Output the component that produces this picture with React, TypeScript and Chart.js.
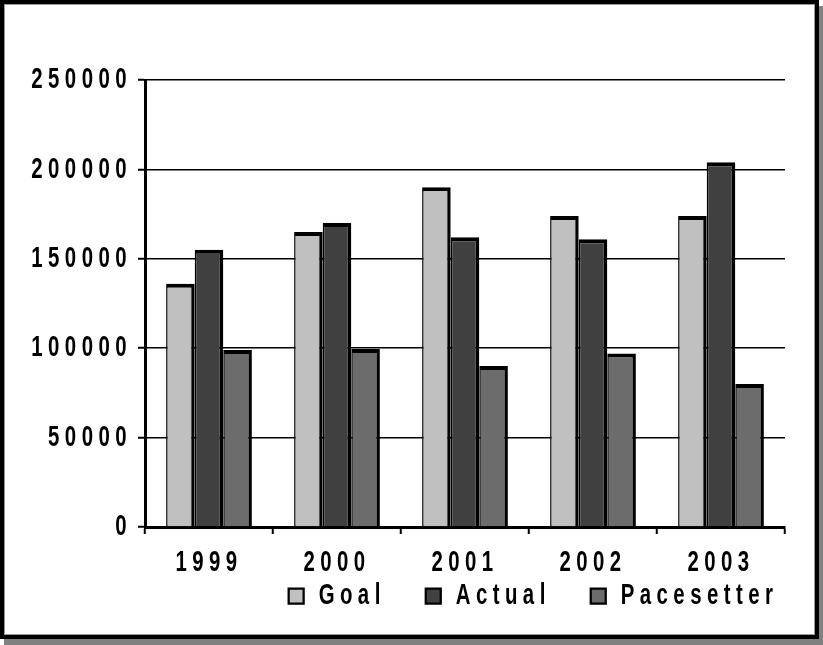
import React, { useEffect, useRef } from "react";
import { Chart, registerables } from "chart.js";

Chart.register(...registerables);

const categories = ["1999", "2000", "2001", "2002", "2003"];
const goal = [136000, 165000, 190000, 174000, 174000];
const actual = [155000, 170000, 162000, 161000, 204000];
const pacesetter = [99000, 99500, 90000, 97000, 80000];
const yTicks = [0, 50000, 100000, 150000, 200000, 250000];

const FONT = "'Liberation Sans', Arial, sans-serif";
const SX = 0.68; // horizontal condensing of text
const SPACING = "8px";
const LEGEND_SHIFT = 141;

function condenseText(ctx: any) {
  if (ctx.__condensed) return;
  ctx.__condensed = true;
  const origFill = ctx.fillText;
  const origMeasure = ctx.measureText;
  ctx.fillText = function (text: string, x: number, y: number, maxWidth?: number) {
    this.save();
    this.translate(x, y);
    this.scale(SX, 1);
    if (maxWidth !== undefined) origFill.call(this, text, 0, 0, maxWidth / SX);
    else origFill.call(this, text, 0, 0);
    this.restore();
  };
  ctx.measureText = function (text: string) {
    const m = origMeasure.call(this, text);
    return {
      width: m.width * SX,
      actualBoundingBoxAscent: m.actualBoundingBoxAscent,
      actualBoundingBoxDescent: m.actualBoundingBoxDescent,
      actualBoundingBoxLeft: m.actualBoundingBoxLeft * SX,
      actualBoundingBoxRight: m.actualBoundingBoxRight * SX,
      fontBoundingBoxAscent: m.fontBoundingBoxAscent,
      fontBoundingBoxDescent: m.fontBoundingBoxDescent,
    };
  };
}

const stylePlugin = {
  id: "textStyle",
  beforeUpdate(chart: any) {
    chart.ctx.letterSpacing = SPACING;
  },
  afterLayout(chart: any) {
    const lg = chart.legend;
    if (lg) {
      lg.left += LEGEND_SHIFT;
      lg.right += LEGEND_SHIFT;
    }
    const x = chart.scales.x;
    if (x) {
      // let the category labels extend below the compact axis box
      x.bottom = x.top + 70;
      x.height = 70;
    }
  },
  beforeDraw(chart: any) {
    chart.ctx.letterSpacing = SPACING;
  },
};

export default function App() {
  const ref = useRef<HTMLCanvasElement | null>(null);

  useEffect(() => {
    if (!ref.current) return;
    const c2d = ref.current.getContext("2d");
    condenseText(c2d);
    const barBorder = { left: 1.5, top: 4, right: 3.5, bottom: 0 };
    const font = { family: FONT, size: 30, weight: "bold" as const };
    const chart = new Chart(ref.current, {
      type: "bar",
      data: {
        labels: categories,
        datasets: [
          { label: "Goal", data: goal, backgroundColor: "#c0c0c0", borderColor: "#000", borderWidth: barBorder as any },
          { label: "Actual", data: actual, backgroundColor: "#404040", borderColor: "#000", borderWidth: barBorder as any },
          { label: "Pacesetter", data: pacesetter, backgroundColor: "#6c6c6c", borderColor: "#000", borderWidth: barBorder as any },
        ],
      },
      options: {
        responsive: false,
        animation: false,
        events: [],
        layout: { padding: { top: 80, right: 38, left: 0, bottom: 24 } },
        datasets: { bar: { categoryPercentage: 0.67, barPercentage: 1.0 } },
        plugins: {
          tooltip: { enabled: false },
          legend: {
            position: "bottom",
            labels: {
              color: "#000",
              font,
              boxWidth: 15,
              boxHeight: 15,
              padding: 40,
            },
          },
        },
        scales: {
          x: {
            afterFit: (scale: any) => {
              scale.height = 14;
            },
            grid: {
              offset: true,
              drawOnChartArea: true,
              color: (c: any) => (c.index === categories.length ? "#000" : "rgba(0,0,0,0)"),
              lineWidth: 1.5,
              drawTicks: true,
              tickLength: 7,
              tickColor: "#000",
              tickWidth: 2,
            },
            border: { display: true, color: "#000", width: 3 },
            ticks: {
              color: "#000",
              font,
              padding: 11,
            },
          },
          y: {
            min: 0,
            max: 250000,
            afterBuildTicks: (scale: any) => {
              scale.ticks = yTicks.map((v) => ({ value: v }));
            },
            afterFit: (scale: any) => {
              scale.width = 145;
            },
            grid: {
              color: "#000",
              lineWidth: 1.5,
              drawTicks: true,
              tickLength: 7,
              tickColor: "#000",
              tickWidth: 2,
            },
            border: { display: true, color: "#000", width: 3 },
            ticks: {
              color: "#000",
              font,
              padding: 6,
              callback: (v: any) => String(v),
            },
          },
        },
      },
      plugins: [stylePlugin],
    });
    return () => chart.destroy();
  }, []);

  return (
    <div style={{ position: "fixed", left: 0, top: 0, width: 823, height: 645, background: "#fff" }}>
      <div
        style={{
          position: "absolute",
          left: 0,
          top: 0,
          width: 819,
          height: 639,
          boxSizing: "border-box",
          border: "4px solid #000",
          background: "#fff",
          boxShadow: "inset 0 0 0 1px #999, 4px 6px 0 0 #808080",
        }}
      />
      <canvas ref={ref} width={823} height={645} style={{ position: "absolute", left: 0, top: 0, width: 823, height: 645 }} />
    </div>
  );
}
